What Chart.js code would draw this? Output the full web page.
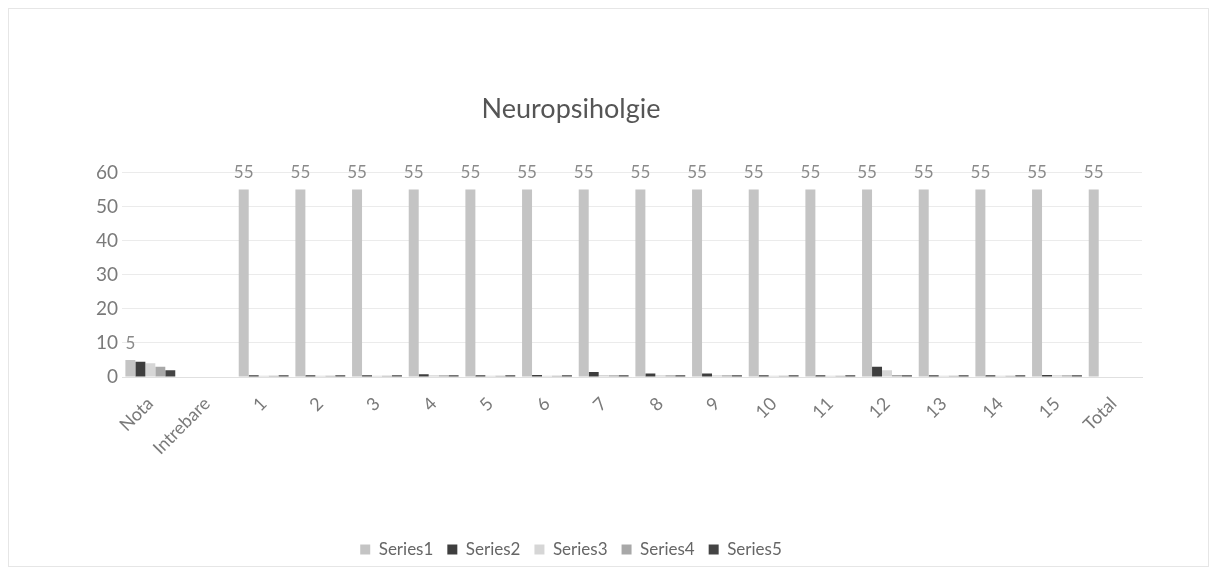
<!DOCTYPE html>
<html>
<head>
<meta charset="utf-8">
<script src="https://cdn.jsdelivr.net/npm/chart.js@4"></script>
<style>
  html, body { margin: 0; padding: 0; background: #fff; }
  #wrap { width: 1218px; height: 574px; }
</style>
</head>
<body>
<div id="wrap"><canvas id="chart" width="1218" height="574"></canvas></div>
<script>
// --- datos ---
const categories = ['Nota', 'Intrebare', '1', '2', '3', '4', '5', '6', '7', '8', '9', '10', '11', '12', '13', '14', '15', 'Total'];
const series1 = [5, null, 55, 55, 55, 55, 55, 55, 55, 55, 55, 55, 55, 55, 55, 55, 55, 55];
const series2 = [4.5, null, 0.5, 0.5, 0.5, 0.8, 0.5, 0.6, 1.5, 1, 1, 0.5, 0.5, 3, 0.5, 0.5, 0.6, null];
const series3 = [4, null, 0.4, 0.4, 0.4, 0.5, 0.4, 0.4, 0.6, 0.5, 0.5, 0.4, 0.4, 2, 0.4, 0.4, 0.5, null];
const series4 = [3, null, 0.4, 0.4, 0.4, 0.5, 0.4, 0.4, 0.5, 0.5, 0.5, 0.4, 0.4, 0.6, 0.4, 0.4, 0.5, null];
const series5 = [2, null, 0.5, 0.5, 0.5, 0.5, 0.5, 0.5, 0.5, 0.5, 0.5, 0.5, 0.5, 0.5, 0.5, 0.5, 0.5, null];
const seriesNames = ['Series1', 'Series2', 'Series3', 'Series4', 'Series5'];
const seriesColors = ['#c4c4c4', '#3e3e3e', '#d6d6d6', '#a8a8a8', '#444444'];

const FONT = 'Lato, "Open Sans", sans-serif';

// etiquetas de valor solo para Series1
const labelPlugin = {
    id: 'valueLabels',
    afterDatasetsDraw(chart) {
        const ctx = chart.ctx;
        const meta = chart.getDatasetMeta(0);
        ctx.save();
        ctx.font = '17px ' + FONT;
        ctx.fillStyle = '#8a8a8a';
        ctx.textAlign = 'center';
        ctx.textBaseline = 'bottom';
        meta.data.forEach((bar, i) => {
            const v = series1[i];
            if (v === null) return;
            ctx.fillText(String(v), bar.x, bar.y - 8);
        });
        ctx.restore();
    }
};

// marco exterior tenue
const framePlugin = {
    id: 'frame',
    beforeDraw(chart) {
        const ctx = chart.ctx;
        ctx.save();
        ctx.strokeStyle = '#e6e6e6';
        ctx.lineWidth = 1;
        ctx.strokeRect(8.5, 8.5, 1200, 558);
        ctx.restore();
    }
};

const datasets = [series1, series2, series3, series4, series5].map((d, i) => ({
    label: seriesNames[i],
    data: d,
    backgroundColor: seriesColors[i],
    borderWidth: 0,
    barPercentage: 1.0,
    categoryPercentage: 0.88
}));

new Chart(document.getElementById('chart'), {
    type: 'bar',
    data: { labels: categories, datasets: datasets },
    options: {
        responsive: false,
        animation: false,
        layout: { padding: { left: 0, right: 76, top: 0, bottom: 6 } },
        plugins: {
            title: {
                display: true,
                text: 'Neuropsiholgie',
                color: '#555',
                font: { family: FONT, size: 27, weight: 'normal' },
                padding: { top: 93, bottom: 47 }
            },
            legend: {
                position: 'bottom',
                labels: {
                    color: '#666',
                    font: { family: FONT, size: 17 },
                    boxWidth: 10,
                    boxHeight: 10,
                    padding: 14
                }
            },
            tooltip: { enabled: false }
        },
        scales: {
            x: {
                grid: { display: false },
                border: { color: '#e0e0e0' },
                ticks: {
                    color: '#7a7a7a',
                    font: { family: FONT, size: 18 },
                    maxRotation: 45,
                    minRotation: 45,
                    autoSkip: false,
                    padding: 8
                },
                afterFit(scale) { scale.height = 150; }
            },
            y: {
                min: 0,
                max: 60,
                ticks: {
                    stepSize: 10,
                    color: '#7a7a7a',
                    font: { family: FONT, size: 19 },
                    padding: 4
                },
                grid: { color: '#ebebeb', drawTicks: false },
                border: { display: false },
                afterFit(scale) { scale.width = 122; }
            }
        }
    },
    plugins: [labelPlugin, framePlugin]
});
</script>
</body>
</html>
